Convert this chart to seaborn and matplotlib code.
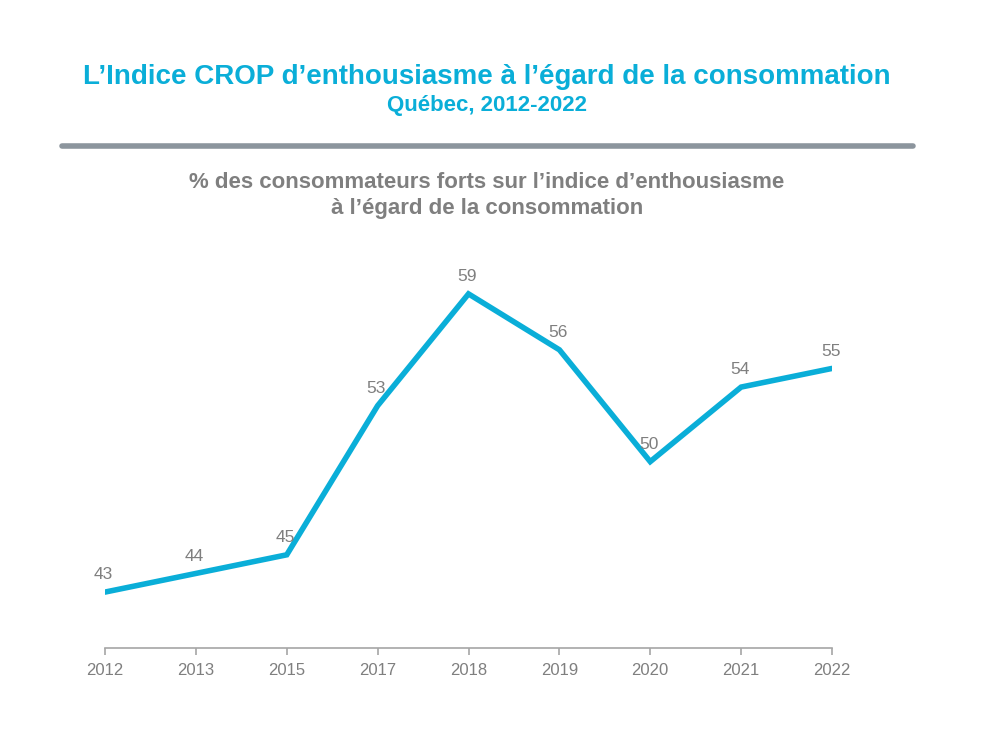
import matplotlib
matplotlib.use("Agg")
import matplotlib.pyplot as plt
import seaborn as sns
import pandas as pd
from matplotlib import font_manager

years = ["2012", "2013", "2015", "2017", "2018", "2019", "2020", "2021", "2022"]
values = [43, 44, 45, 53, 59, 56, 50, 54, 55]

sns.set_theme(style="white")
names = {f.name for f in font_manager.fontManager.ttflist}
fam = "Liberation Sans Narrow" if "Liberation Sans Narrow" in names else "Liberation Sans"
plt.rcParams["font.family"] = [fam, "DejaVu Sans"]

CYAN = "#0AAED8"
GRAY = "#7F7F7F"

df = pd.DataFrame({"year": years, "value": values})
fig = plt.figure(figsize=(10, 7.5), dpi=100)
ax = fig.add_axes([0.105, 0.136, 0.727, 0.497])
sns.lineplot(data=df, x="year", y="value", ax=ax, color=CYAN, linewidth=4.0,
             sort=False, solid_joinstyle="miter")
ax.set_xlim(0, len(years) - 1)
ax.set_ylim(40, 60)
for i, v in enumerate(values):
    ax.annotate(str(v), (i, v), xytext=(-1, 7), textcoords="offset points",
                ha="center", va="bottom", fontsize=12.5, color=GRAY)
ax.set_xlabel("")
ax.set_ylabel("")
ax.set_yticks([])
for s in ["top", "right", "left"]:
    ax.spines[s].set_visible(False)
ax.spines["bottom"].set_color("#A6A6A6")
ax.spines["bottom"].set_linewidth(1.2)
ax.tick_params(axis="x", bottom=True, length=5, width=1.2, color="#A6A6A6",
               labelsize=12, labelcolor=GRAY, pad=6)

fig.text(0.487, 0.897, "L\u2019Indice CROP d\u2019enthousiasme \u00e0 l\u2019\u00e9gard de la consommation",
         ha="center", va="center", fontsize=20, fontweight="bold", color="#0AAED8")
fig.text(0.487, 0.860, "Qu\u00e9bec, 2012-2022", ha="center", va="center",
         fontsize=16, fontweight="bold", color="#0AAED8")
fig.add_artist(plt.Line2D([0.062, 0.913], [0.805, 0.805], color="#8C959D",
                          linewidth=4, transform=fig.transFigure))
fig.text(0.487, 0.757, "% des consommateurs forts sur l\u2019indice d\u2019enthousiasme",
         ha="center", va="center", fontsize=16, fontweight="bold", color=GRAY)
fig.text(0.487, 0.722, "\u00e0 l\u2019\u00e9gard de la consommation",
         ha="center", va="center", fontsize=16, fontweight="bold", color=GRAY)

fig.savefig("out.png", dpi=100)
